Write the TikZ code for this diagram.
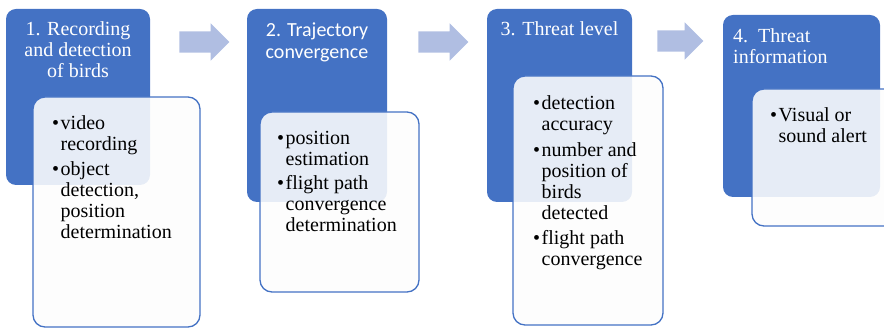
\documentclass[tikz,border=0pt]{standalone}
\usepackage{fontspec}
\setmainfont{Liberation Serif}
\newfontfamily\calibrifont{Carlito}
\usetikzlibrary{shapes.arrows}
\definecolor{stageblue}{RGB}{68,114,196}
\definecolor{flowblue}{RGB}{176,190,226}
\definecolor{paper}{RGB}{253,253,253}

\newcommand{\bulletlist}[1]{\begin{tabular}[t]{@{}l@{\hspace{1.5pt}}l@{}}#1\end{tabular}}

\begin{document}
\begin{tikzpicture}[
    x=1pt, y=-1pt, font=\fontsize{20}{21}\selectfont,
    stage/.style={rectangle, rounded corners=10pt, fill=stageblue, draw=none,
                  inner sep=0pt},
    detail/.style={rectangle, rounded corners=12pt, draw=stageblue, line width=1.3pt,
                   fill=paper, fill opacity=0.88, inner sep=0pt},
    flow/.style={single arrow, fill=flowblue, draw=none, inner xsep=0pt,
                 inner ysep=10.5pt, minimum width=37pt, single arrow head extend=8pt},
    ttl/.style={text=white, inner sep=0pt, anchor=base},
    lst/.style={text=black, inner sep=0pt, anchor=base west},
  ]
    \useasboundingbox (0,0) rectangle (884,328);
    \clip (0,0) rectangle (884,328);

    % blue stages
    \node[stage, minimum width=144pt, minimum height=176pt] (s1) at (78,97)     {};
    \node[stage, minimum width=140pt, minimum height=193pt] (s2) at (317,105.5) {};
    \node[stage, minimum width=145pt, minimum height=193pt] (s3) at (559.5,105.5) {};
    \node[stage, minimum width=157pt, minimum height=182pt] (s4) at (801.5,106) {};

    % detail cards
    \node[detail, minimum width=167pt, minimum height=230pt] (d1) at (116.5,212) {};
    \node[detail, minimum width=159pt, minimum height=180pt] (d2) at (339.5,202) {};
    \node[detail, minimum width=150pt, minimum height=249pt] (d3) at (588,200.5) {};
    \node[detail, minimum width=158pt, minimum height=137pt] (d4) at (831,157.5) {};

    % arrows between stages
    \node[flow, minimum height=50pt] (a1) at (199,42)   {};
    \node[flow, minimum height=50pt] (a2) at (438,42)   {};
    \node[flow, minimum height=46pt] (a3) at (675,41)   {};

    % titles
    \node[ttl] (t1) at (78,36)
      {\begin{tabular}[t]{@{}c@{}}1. Recording\\and detection\\of birds\end{tabular}};
    \node[ttl] (t2) at (317,37)
      {\calibrifont\begin{tabular}[t]{@{}c@{}}2. Trajectory\\[1pt]convergence\end{tabular}};
    \node[ttl] (t3) at (559.5,36) {3. Threat level};
    \node[ttl, anchor=base west] (t4) at (733,43)
      {\begin{tabular}[t]{@{}l@{}}4.~~Threat\\information\end{tabular}};

    % bullet texts
    \node[lst] (l1) at (52,130) {\bulletlist{%
      \textbullet & video\\ & recording\\[4pt]
      \textbullet & object\\ & detection,\\ & position\\ & determination}};
    \node[lst] (l2) at (277,145) {\bulletlist{%
      \textbullet & position\\ & estimation\\[3pt]
      \textbullet & flight path\\ & convergence\\ & determination}};
    \node[lst] (l3) at (533,110) {\bulletlist{%
      \textbullet & detection\\ & accuracy\\[5pt]
      \textbullet & number and\\ & position of\\ & birds\\ & detected\\[4pt]
      \textbullet & flight path\\ & convergence}};
    \node[lst] (l4) at (770,122) {\bulletlist{%
      \textbullet & Visual or\\ & sound alert}};
  \end{tikzpicture}
\end{document}
